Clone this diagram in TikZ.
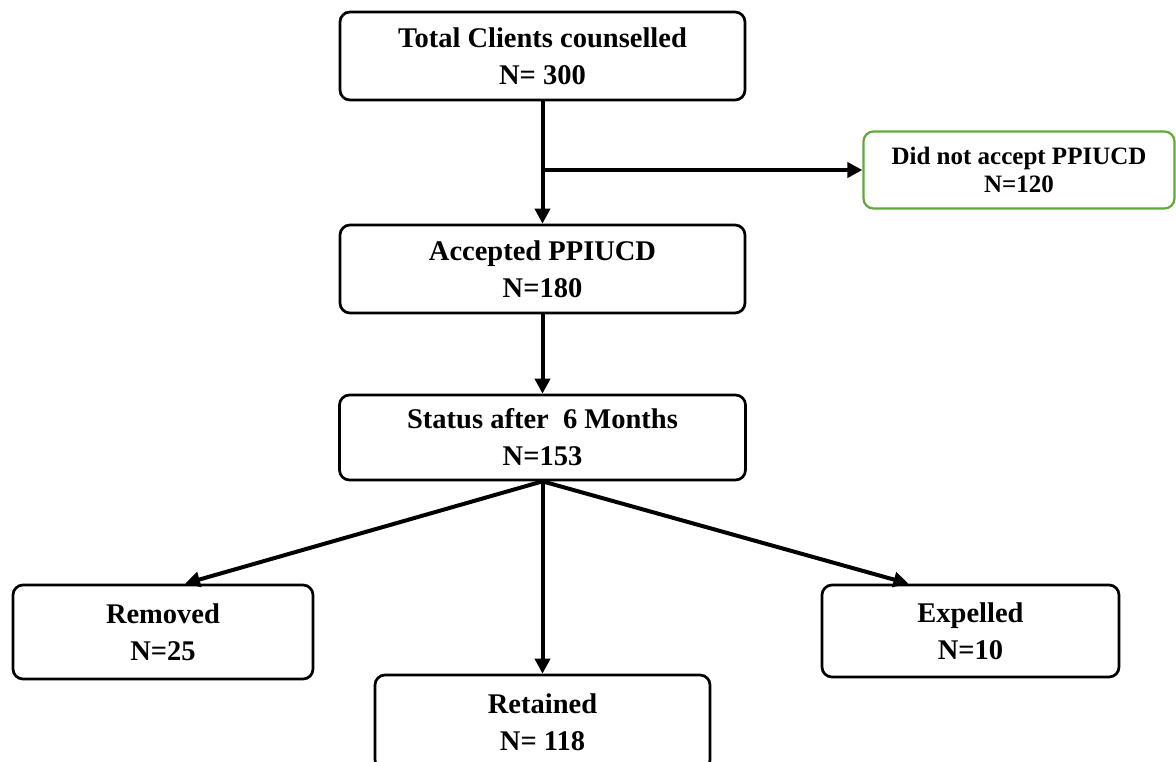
\documentclass[tikz,border=0pt]{standalone}
\usepackage{fontspec}
\setmainfont{Liberation Serif}
\usetikzlibrary{arrows.meta}
\definecolor{boxgreen}{RGB}{96,170,58}
\begin{document}
\begin{tikzpicture}[x=1pt,y=-1pt,
  box/.style={draw=black, line width=2.7pt, rounded corners=10pt, align=center,
    font=\fontsize{28.5}{37}\selectfont\bfseries, inner sep=0pt},
  gbox/.style={box, draw=boxgreen, line width=2.2pt, font=\fontsize{25}{28}\selectfont\bfseries},
  arr/.style={line width=4pt, -{Triangle[length=15pt,width=15pt]}}]
\useasboundingbox (0,0) rectangle (1176,761);
\node[box, minimum width=405pt, minimum height=88pt] (total) at (542.5,56) {Total Clients counselled\\N= 300};
\node[gbox, minimum width=311pt, minimum height=77pt] (notacc) at (1019,170) {Did not accept PPIUCD\\N=120};
\node[box, minimum width=405pt, minimum height=88pt] (accepted) at (542.5,269) {Accepted PPIUCD\\N=180};
\node[box, minimum width=406pt, minimum height=85pt] (status) at (542.5,437.5) {Status after~~6 Months\\N=153};
\node[box, minimum width=300pt, minimum height=94pt] (removed) at (163,632) {Removed\\N=25};
\node[box, minimum width=297pt, minimum height=92pt] (expelled) at (970.5,631) {Expelled\\N=10};
\node[box, minimum width=335pt, minimum height=95pt] (retained) at (542.5,722.5) {Retained\\N= 118};
\coordinate (branch) at (542.5,170);
\draw[arr] (total) -- (accepted);
\draw[arr] (branch) -- (notacc);
\draw[arr] (accepted) -- (status);
\draw[arr] (status.south) -- ([xshift=22pt]removed.north);
\draw[arr] (status.south) -- (retained);
\draw[arr] (status.south) -- ([xshift=-62pt]expelled.north);
\end{tikzpicture}
\end{document}
